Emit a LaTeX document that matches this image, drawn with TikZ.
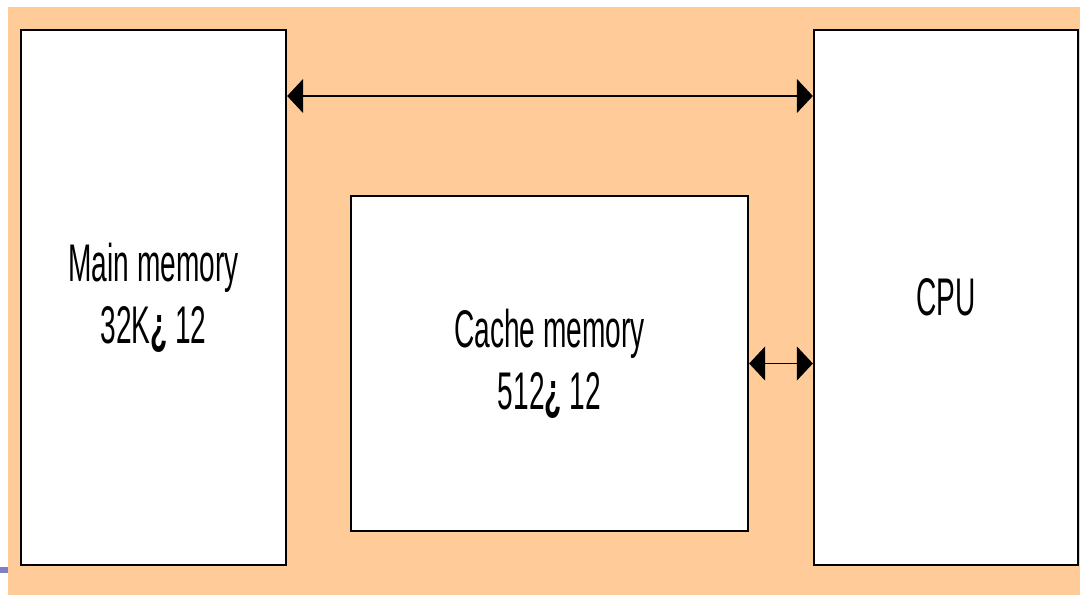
\documentclass[tikz,border=0pt]{standalone}
\usepackage{fontspec}
\newfontfamily\narrowfont[FakeStretch=0.53]{Liberation Sans}
\usetikzlibrary{arrows.meta,shadows}
\definecolor{peach}{HTML}{FFCC99}
\definecolor{markblue}{HTML}{7F7FC8}
\newcommand{\bymark}{\textbf{¿}}
\tikzset{
  unit/.style={draw=black, fill=white, line width=1.1pt,
    drop shadow={shadow xshift=1.3pt, shadow yshift=-1.3pt, fill=black!55, opacity=1},
    align=center, inner sep=0pt,
    font=\narrowfont\fontsize{53}{62}\selectfont},
  bus/.style={line width=1.1pt, {Triangle[length=16pt,width=34pt]}-{Triangle[length=16pt,width=34pt]}, shorten <=0.6pt, shorten >=0.6pt}
}
\begin{document}
\begin{tikzpicture}[x=1pt, y=-1pt]
  \useasboundingbox (0,0) rectangle (1080,595);
  % backdrop
  \fill[white] (0,0) rectangle (1080,595);
  \fill[peach] (8,7) rectangle (1080,595);
  \fill[markblue] (0,567) rectangle (8,573);

  % units
  \node[unit, minimum width=265pt, minimum height=535pt] (main) at (153.5,297.5)
    {Main memory\\32K\bymark\ 12};
  \node[unit, minimum width=397pt, minimum height=335pt] (cache) at (549.5,363.5)
    {Cache memory\\512\bymark\ 12};
  \node[unit, minimum width=264pt, minimum height=535pt] (cpu) at (946,297.5)
    {CPU};

  % buses
  \coordinate (topbus) at (0,96);
  \draw[bus] (main.east |- topbus) -- (cpu.west |- topbus);
  \draw[bus] (cache.east) -- (cache.east -| cpu.west);
\end{tikzpicture}
\end{document}
